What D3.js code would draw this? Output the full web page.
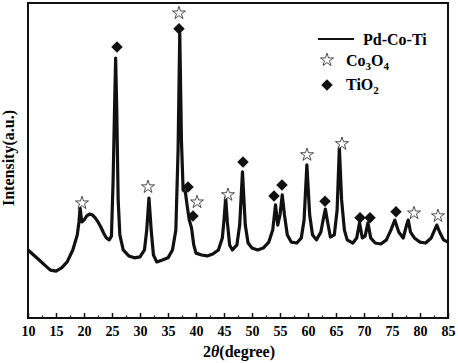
<!DOCTYPE html>
<html>
<head>
<meta charset="utf-8">
<script src="https://cdn.jsdelivr.net/npm/d3@7"></script>
<style>
  body { margin: 0; background: #fff; }
  svg text { font-family: "Liberation Serif", "Times New Roman", serif; font-weight: bold; fill: #000; }
</style>
</head>
<body>
<div id="chart"></div>
<script>
// XRD pattern of Pd-Co-Ti (2theta in degrees, intensity in a.u.)
const twoTheta = [
  10, 11, 12, 13, 14, 15, 16, 17, 18, 18.8, 19.1, 19.3, 19.6, 20, 20.5, 21, 21.5, 22, 22.5, 23, 23.5, 24, 24.5, 24.9,
  25.2, 25.45, 25.65, 25.85, 26.1, 26.4, 27, 28, 29, 30, 30.8, 31.2, 31.6, 32, 32.4, 33, 34, 35, 35.8, 36.4,
  36.8, 37.1, 37.4, 37.7, 38.1, 38.4, 38.8, 39.2, 39.6, 40, 41, 42, 43, 44, 44.7, 45, 45.3, 45.6, 46, 46.5,
  47.3, 47.8, 48.3, 48.8, 49.3, 50, 51, 52, 53, 53.7, 54.2, 54.6, 55, 55.4, 55.8, 56.3, 57, 58, 58.8, 59.3,
  59.8, 60.3, 60.8, 61.5, 62.3, 62.7, 63.1, 63.5, 64, 64.7, 65.2, 65.6, 66, 66.5, 67, 68, 68.7, 69.2, 69.7,
  70.2, 70.7, 71.2, 72, 73, 74, 74.8, 75.5, 76.2, 77, 77.6, 77.9, 78.3, 79, 80, 81, 82, 82.6, 83, 83.5, 84.2, 85
];
const intensity = [
  216, 200, 184, 168, 152, 149, 159, 178, 216, 264, 305, 349, 305, 311, 324, 330, 327, 318, 305, 289, 270, 254, 248, 260,
  438, 660, 825, 660, 375, 264, 216, 197, 191, 194, 216, 279, 381, 279, 200, 178, 184, 191, 216, 279,
  533, 905, 565, 406, 400, 359, 311, 286, 232, 206, 200, 197, 203, 216, 254, 311, 381, 305, 232, 216,
  232, 295, 464, 295, 238, 222, 216, 222, 241, 279, 359, 295, 327, 391, 327, 264, 241, 238, 254, 311,
  486, 327, 264, 248, 273, 311, 346, 305, 257, 264, 343, 540, 375, 279, 248, 238, 254, 302, 254,
  260, 302, 254, 238, 235, 248, 279, 311, 273, 254, 295, 311, 273, 254, 241, 238, 254, 279, 295, 273, 248, 241
];

// phase markers
const co3o4Pos = [19.64, 31.43, 36.96, 40.18, 45.71, 59.82, 66.07, 78.93, 83.21];
const co3o4Int = [365, 416, 968, 368, 391, 518, 553, 333, 324];
const tio2Pos = [25.89, 36.96, 38.57, 39.46, 48.39, 53.93, 55.36, 63.04, 69.29, 71.07, 75.71];
const tio2Int = [860, 918, 416, 324, 495, 387, 422, 371, 318, 318, 337];

const majorTicks = d3.range(10, 86, 5);
const minorTicks = d3.range(12.5, 85, 5);

const width = 458, height = 363;
const margin = { left: 28, right: 10, top: 3, bottom: 45 };

const svg = d3.select('#chart').append('svg')
  .attr('width', width)
  .attr('height', height);

const x = d3.scaleLinear().domain([10, 85]).range([margin.left, 448]);
const y = d3.scaleLinear().domain([0, 1000]).range([318, margin.top]);

// curve
const line = d3.line()
  .x((d, i) => x(twoTheta[i]))
  .y(d => y(d));

svg.append('path')
  .datum(intensity)
  .attr('d', line)
  .attr('fill', 'none')
  .attr('stroke', '#111')
  .attr('stroke-width', 3.2)
  .attr('stroke-linejoin', 'round');

// frame
svg.append('rect')
  .attr('x', x(10))
  .attr('y', y(1000))
  .attr('width', x(85) - x(10))
  .attr('height', y(0) - y(1000))
  .attr('fill', 'none')
  .attr('stroke', '#111')
  .attr('stroke-width', 2);

// ticks (inward)
const xAxis = svg.append('g')
  .attr('transform', `translate(0,${y(0)})`)
  .call(d3.axisBottom(x).tickValues(majorTicks).tickSizeInner(-5).tickSizeOuter(0).tickPadding(8));
xAxis.select('.domain').remove();
xAxis.selectAll('.tick line').attr('stroke', '#111').attr('stroke-width', 1.5);
xAxis.selectAll('.tick text')
  .attr('font-size', 14)
  .style('font-family', '"Liberation Serif", serif')
  .style('font-weight', 'bold');

const xMinor = svg.append('g')
  .attr('transform', `translate(0,${y(0)})`)
  .call(d3.axisBottom(x).tickValues(minorTicks).tickSizeInner(-2.5).tickSizeOuter(0).tickFormat(''));
xMinor.select('.domain').remove();
xMinor.selectAll('.tick line').attr('stroke', '#111').attr('stroke-width', 1.2);

// markers
const star = d3.symbol().type(d3.symbolStar).size(52);
const diamond = d3.symbol().type(d3.symbolSquare).size(66);

svg.append('g').selectAll('path')
  .data(co3o4Pos)
  .join('path')
  .attr('d', star)
  .attr('transform', (d, i) => `translate(${x(d)},${y(co3o4Int[i])})`)
  .attr('fill', '#fff')
  .attr('stroke', '#222')
  .attr('stroke-width', 0.8);

svg.append('g').selectAll('path')
  .data(tio2Pos)
  .join('path')
  .attr('d', diamond)
  .attr('transform', (d, i) => `translate(${x(d)},${y(tio2Int[i])}) rotate(45)`)
  .attr('fill', '#111');

// legend
const legend = svg.append('g');
legend.append('line')
  .attr('x1', 318).attr('x2', 354)
  .attr('y1', 39).attr('y2', 39)
  .attr('stroke', '#111').attr('stroke-width', 2.2);
legend.append('text').attr('x', 363).attr('y', 45).attr('font-size', 16).text('Pd-Co-Ti');

legend.append('path').attr('d', star).attr('transform', 'translate(327,60)')
  .attr('fill', '#fff').attr('stroke', '#222').attr('stroke-width', 0.8);
const co = legend.append('text').attr('x', 346).attr('y', 66).attr('font-size', 16);
co.append('tspan').text('Co');
co.append('tspan').attr('font-size', 11).attr('dy', 4).text('3');
co.append('tspan').attr('dy', -4).text('O');
co.append('tspan').attr('font-size', 11).attr('dy', 4).text('4');

legend.append('path').attr('d', diamond).attr('transform', 'translate(327,85) rotate(45)').attr('fill', '#111');
const ti = legend.append('text').attr('x', 346).attr('y', 90).attr('font-size', 16);
ti.append('tspan').text('TiO');
ti.append('tspan').attr('font-size', 11).attr('dy', 4).text('2');

// axis titles
const xt = svg.append('text')
  .attr('x', 239).attr('y', 357)
  .attr('text-anchor', 'middle')
  .attr('font-size', 16);
xt.append('tspan').text('2');
xt.append('tspan').attr('font-style', 'italic').text('θ');
xt.append('tspan').text('(degree)');

svg.append('text')
  .attr('transform', 'translate(14,158) rotate(-90)')
  .attr('text-anchor', 'middle')
  .attr('font-size', 16)
  .text('Intensity(a.u.)');
</script>
</body>
</html>
